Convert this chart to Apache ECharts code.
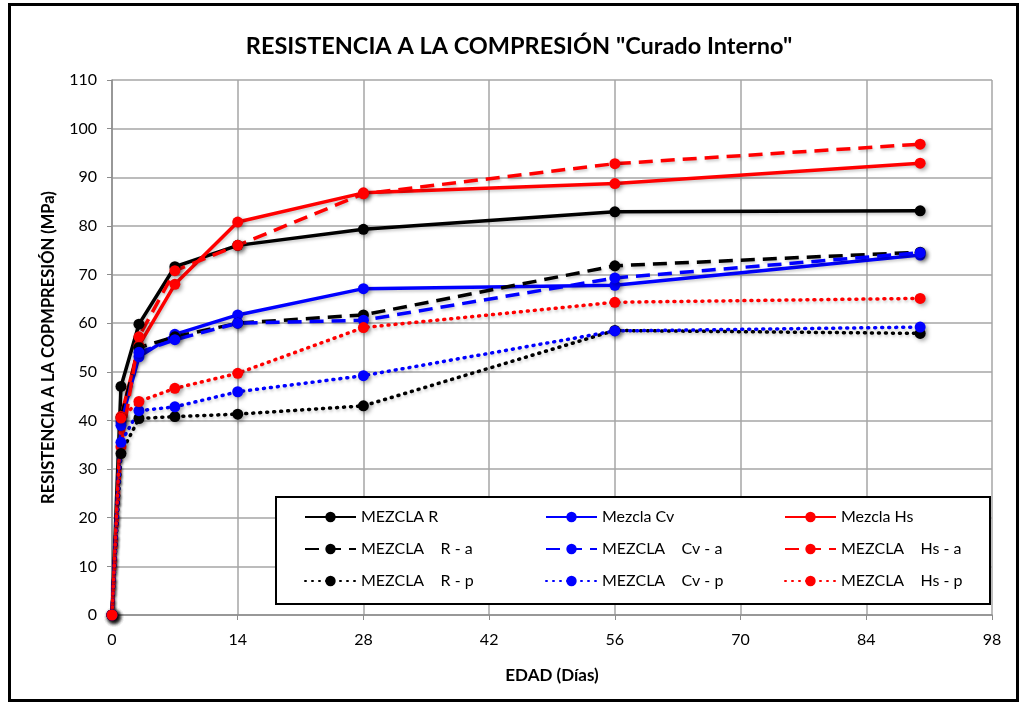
<!DOCTYPE html>
<html>
<head>
<meta charset="utf-8">
<script src="https://cdn.jsdelivr.net/npm/echarts@6/dist/echarts.min.js"></script>
<style>
  html, body { margin: 0; padding: 0; background: #fff; }
  #chart { width: 1021px; height: 704px; }
</style>
</head>
<body>
<div id="chart"></div>
<script>
// Ages (days) at which specimens were tested
const days = [0, 1, 3, 7, 14, 28, 56, 90];

// Compressive strength (MPa) per mix
const mezclaR   = [0, 47.0, 59.8, 71.6, 76.0, 79.3, 82.9, 83.1];
const mezclaCv  = [0, 39.7, 53.1, 57.7, 61.7, 67.1, 67.8, 74.0];
const mezclaHs  = [0, 40.8, 55.4, 68.0, 80.8, 86.8, 88.7, 92.9];
const mezclaRa  = [0, 40.5, 55.0, 57.2, 60.0, 61.7, 71.8, 74.6];
const mezclaCva = [0, 39.0, 54.0, 56.6, 60.0, 60.6, 69.3, 74.5];
const mezclaHsa = [0, 34.6, 57.2, 70.8, 76.0, 86.6, 92.8, 96.8];
const mezclaRp  = [0, 33.2, 40.4, 40.8, 41.3, 43.0, 58.5, 57.9];
const mezclaCvp = [0, 35.5, 42.0, 42.8, 45.9, 49.2, 58.4, 59.2];
const mezclaHsp = [0, 40.5, 43.9, 46.6, 49.7, 59.1, 64.3, 65.1];

const seriesNames = [
  'MEZCLA R', 'Mezcla Cv', 'Mezcla Hs',
  'MEZCLA    R - a', 'MEZCLA    Cv - a', 'MEZCLA    Hs - a',
  'MEZCLA    R - p', 'MEZCLA    Cv - p', 'MEZCLA    Hs - p'
];

const yTicks = { min: 0, max: 110, step: 10 };
const xTicks = { min: 0, max: 98, step: 14 };

const FONT = 'Lato, "Open Sans", sans-serif';

function pairs(vals) {
  return days.map((d, i) => [d, vals[i]]);
}

function lineSeries(name, vals, color, kind) {
  const dash = kind === 'solid' ? 'solid' : (kind === 'dash' ? [14, 8] : [1, 6]);
  return {
    name: name,
    type: 'line',
    data: pairs(vals),
    symbol: 'circle',
    symbolSize: 11,
    showSymbol: true,
    itemStyle: {
      color: color,
      shadowColor: 'rgba(0,0,0,0.35)',
      shadowBlur: 4,
      shadowOffsetX: 2,
      shadowOffsetY: 2
    },
    lineStyle: {
      color: color,
      width: 3.5,
      type: dash,
      cap: kind === 'dot' ? 'round' : 'butt',
      shadowColor: 'rgba(0,0,0,0.2)',
      shadowBlur: 3,
      shadowOffsetX: 1,
      shadowOffsetY: 2
    },
    emphasis: { disabled: true },
    animation: false,
    z: 2
  };
}

const BLACK = '#000000', BLUE = '#0000ff', RED = '#ff0000';

const series = [
  lineSeries(seriesNames[0], mezclaR, BLACK, 'solid'),
  lineSeries(seriesNames[1], mezclaCv, BLUE, 'solid'),
  lineSeries(seriesNames[2], mezclaHs, RED, 'solid'),
  lineSeries(seriesNames[3], mezclaRa, BLACK, 'dash'),
  lineSeries(seriesNames[4], mezclaCva, BLUE, 'dash'),
  lineSeries(seriesNames[5], mezclaHsa, RED, 'dash'),
  lineSeries(seriesNames[6], mezclaRp, BLACK, 'dot'),
  lineSeries(seriesNames[7], mezclaCvp, BLUE, 'dot'),
  lineSeries(seriesNames[8], mezclaHsp, RED, 'dot')
];

function legendColumn(names, left) {
  return {
    orient: 'vertical',
    left: left,
    top: 509,
    padding: 0,
    itemWidth: 51,
    itemHeight: 13,
    itemGap: 16,
    data: names,
    textStyle: { fontFamily: FONT, fontSize: 16, color: '#000' },
    selectedMode: false,
    z: 5
  };
}

const chart = echarts.init(document.getElementById('chart'), null, { renderer: 'canvas' });

chart.setOption({
  backgroundColor: '#ffffff',
  animation: false,
  grid: { left: 112, right: 29, top: 80, bottom: 89, containLabel: false },
  xAxis: {
    type: 'value',
    min: xTicks.min,
    max: xTicks.max,
    interval: xTicks.step,
    name: 'EDAD (Días)',
    nameLocation: 'middle',
    nameGap: 52,
    nameTextStyle: { fontFamily: FONT, fontWeight: 'bold', fontSize: 17, color: '#000' },
    axisLine: { show: true, lineStyle: { color: '#8c8c8c', width: 1.5 } },
    axisTick: { show: true, length: 5, lineStyle: { color: '#8c8c8c' } },
    axisLabel: { fontFamily: FONT, fontSize: 16, color: '#000', margin: 17 },
    splitLine: { show: true, lineStyle: { color: '#a6a6a6', width: 1.5 } }
  },
  yAxis: {
    type: 'value',
    min: yTicks.min,
    max: yTicks.max,
    interval: yTicks.step,
    name: 'RESISTENCIA A LA COPMPRESIÓN (MPa)',
    nameLocation: 'middle',
    nameGap: 55,
    nameTextStyle: { fontFamily: FONT, fontWeight: 'bold', fontSize: 16.5, color: '#000' },
    axisLine: { show: true, lineStyle: { color: '#8c8c8c', width: 1.5 } },
    axisTick: { show: true, length: 5, lineStyle: { color: '#8c8c8c' } },
    axisLabel: { fontFamily: FONT, fontSize: 16, color: '#000', margin: 15 },
    splitLine: { show: true, lineStyle: { color: '#a6a6a6', width: 1.5 } }
  },
  legend: [
    legendColumn([seriesNames[0], seriesNames[3], seriesNames[6]], 304),
    legendColumn([seriesNames[1], seriesNames[4], seriesNames[7]], 545),
    legendColumn([seriesNames[2], seriesNames[5], seriesNames[8]], 784)
  ],
  graphic: [
    {
      type: 'rect',
      shape: { x: 9.5, y: 4.5, width: 1008, height: 696 },
      style: { fill: null, stroke: '#000', lineWidth: 3 },
      z: 10,
      silent: true
    },
    {
      type: 'rect',
      shape: { x: 276, y: 497, width: 714, height: 107 },
      style: { fill: '#ffffff', stroke: '#000', lineWidth: 2 },
      z: 3,
      silent: true
    },
    {
      type: 'text',
      x: 519,
      y: 46,
      style: {
        text: 'RESISTENCIA A LA COMPRESIÓN "Curado Interno"',
        fontFamily: FONT,
        fontWeight: 'bold',
        fontSize: 23.5,
        fill: '#000',
        textAlign: 'center',
        textVerticalAlign: 'middle'
      },
      z: 10,
      silent: true
    }
  ],
  series: series
});
</script>
</body>
</html>
